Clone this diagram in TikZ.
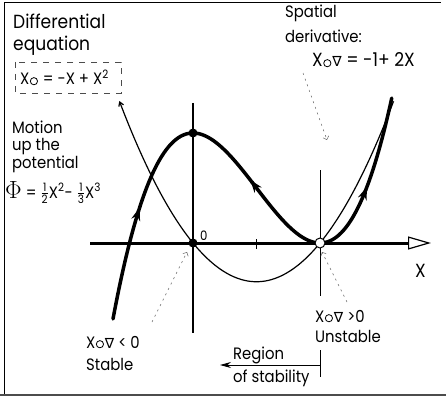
\documentclass[tikz,border=0pt]{standalone}
\usepackage{amsmath}
\usepackage{fontspec}
\setmainfont{Poppins}[FakeStretch=0.9]
\newfontfamily\symfont{DejaVu Sans}
\usetikzlibrary{arrows.meta}

\newcommand{\circsym}{\kern0.5pt\tikz[baseline=0pt]\draw[line width=0.8pt] (0pt,3.8pt) circle (3.6pt);\kern1pt}
\newcommand{\nabsym}{{\symfont\fontsize{14}{14}\selectfont ∇}}

\begin{document}
\begin{tikzpicture}[x=1pt,y=-1pt,>=Stealth,
  bigtxt/.style={inner sep=0pt,font=\fontsize{19}{19}\selectfont},
  medtxt/.style={inner sep=0pt,font=\fontsize{16.5}{16.5}\selectfont},
  curve/.style={line width=3.5pt,line cap=round},
  thincurve/.style={line width=1.2pt},
  leader/.style={black!60,line width=0.5pt,dash pattern=on 2pt off 4pt}]
  \useasboundingbox (0,0) rectangle (446,398);
  % frame
  \draw[line width=1pt] (4,394) -- (4,3) -- (441,3);
  \draw[line width=2pt,black!70] (0,395) -- (446,395);

  \coordinate (O) at (193,243);
  \coordinate (top) at (193,133);
  \coordinate (fix) at (320,243);
  \coordinate (xl) at (90,243);
  \coordinate (xr) at (431,243);

  % axes
  \draw[line width=3pt,-{Triangle[open,length=23pt,width=13pt,line width=1.2pt]}] (xl) -- (xr);
  \draw[line width=2pt] (193,103) -- (193,333);
  \draw[line width=0.8pt] (320,170) -- (320,296);
  \draw[line width=0.8pt] (256,239) -- (256,249);

  % parabola X(X-1)
  \begin{scope}[shift={(O)},x=127pt,y=155pt]
    \draw[thincurve,{Straight Barb[length=4pt,width=5pt]}-] plot[domain=-0.58:1.58,samples=80,smooth] (\x,{\x*\x-\x});
  \end{scope}

  % potential curve with flow arrows
  \begin{scope}[shift={(O)},x=127pt,y=660pt]
    \draw[curve,-{Stealth[length=13pt,width=9pt]}] plot[domain=-0.63:-0.42,samples=15,smooth] (\x,{1/6-\x*\x/2+\x*\x*\x/3});
    \draw[curve] plot[domain=-0.43:0.47,samples=50,smooth] (\x,{1/6-\x*\x/2+\x*\x*\x/3});
    \draw[curve,-{Stealth[length=13pt,width=9pt]}] plot[domain=1:0.45,samples=30,smooth] (\x,{1/6-\x*\x/2+\x*\x*\x/3});
    \draw[curve,-{Stealth[length=13pt,width=9pt]}] plot[domain=1:1.37,samples=25,smooth] (\x,{1/6-\x*\x/2+\x*\x*\x/3});
    \draw[curve] plot[domain=1.36:1.565,samples=15,smooth] (\x,{1/6-\x*\x/2+\x*\x*\x/3});
  \end{scope}

  \fill (O) circle (4.5pt);
  \fill (top) circle (4.5pt);
  \draw[line width=1pt,fill=white] (fix) circle (5pt);

  % labels
  \node[bigtxt,anchor=base west] (diff1) at (13,29) {Differential};
  \node[bigtxt,anchor=base west] (diff2) at (13,51) {equation};
  \node[medtxt,anchor=base west] (deq) at (20,85) {X\circsym{} = -X + X\textsuperscript{2}};
  \draw[line width=0.5pt,black!70,dash pattern=on 6pt off 6pt] (15,62) rectangle (121,93);

  \node[medtxt,anchor=base west] (mot1) at (12,133) {Motion};
  \node[medtxt,anchor=base west] (mot2) at (12,150) {up the};
  \node[medtxt,anchor=base west] (mot3) at (12,168) {potential};
  \node[medtxt,anchor=base west] (pot) at (5,198) {{\fontsize{26}{26}\selectfont$\Phi$} = $\frac{\text{1}}{\text{2}}$X\textsuperscript{2}- $\frac{\text{1}}{\text{3}}$X\textsuperscript{3}};

  \node[medtxt,anchor=base west] (spat1) at (285,18) {Spatial};
  \node[medtxt,anchor=base west] (spat2) at (285,43) {derivative:};
  \node[bigtxt,anchor=base west] (deriv) at (312,67) {X\circsym\nabsym{} = -1+ 2X};

  \node[medtxt,anchor=base west] (stab1) at (86,348) {X\circsym\nabsym{} < 0};
  \node[medtxt,anchor=base west] (stab2) at (86,370) {Stable};
  \node[medtxt,anchor=base west] (unst1) at (315,322) {X\circsym\nabsym{} >0};
  \node[medtxt,anchor=base west] (unst2) at (315,342) {Unstable};

  \node[medtxt,anchor=base west] (reg1) at (233,359) {Region};
  \node[medtxt,anchor=base west] (reg2) at (233,382) {of stability};
  \node[medtxt,anchor=base west] (zero) at (200,240) {\fontsize{13}{13}\selectfont 0};
  \node[bigtxt,anchor=base west] (xlbl) at (415,277) {X};

  % leaders
  \coordinate (spatend) at (327,140);
  \draw[leader,-{Straight Barb[length=3pt]}] (303,73) -- (spatend);
  \draw[leader,-{Straight Barb[length=3pt]}] (347,302) -- (322,252);
  \draw[leader,-{Straight Barb[length=3pt]}] (152,322) -- (187,252);

  % region of stability
  \coordinate (regr) at (320,365);
  \coordinate (regl) at (220,365);
  \draw[line width=0.8pt,-{Stealth[length=11pt,width=6pt]}] (regr) -- (regl);
  \draw[line width=1pt] (320,350) -- (320,377);
\end{tikzpicture}
\end{document}
